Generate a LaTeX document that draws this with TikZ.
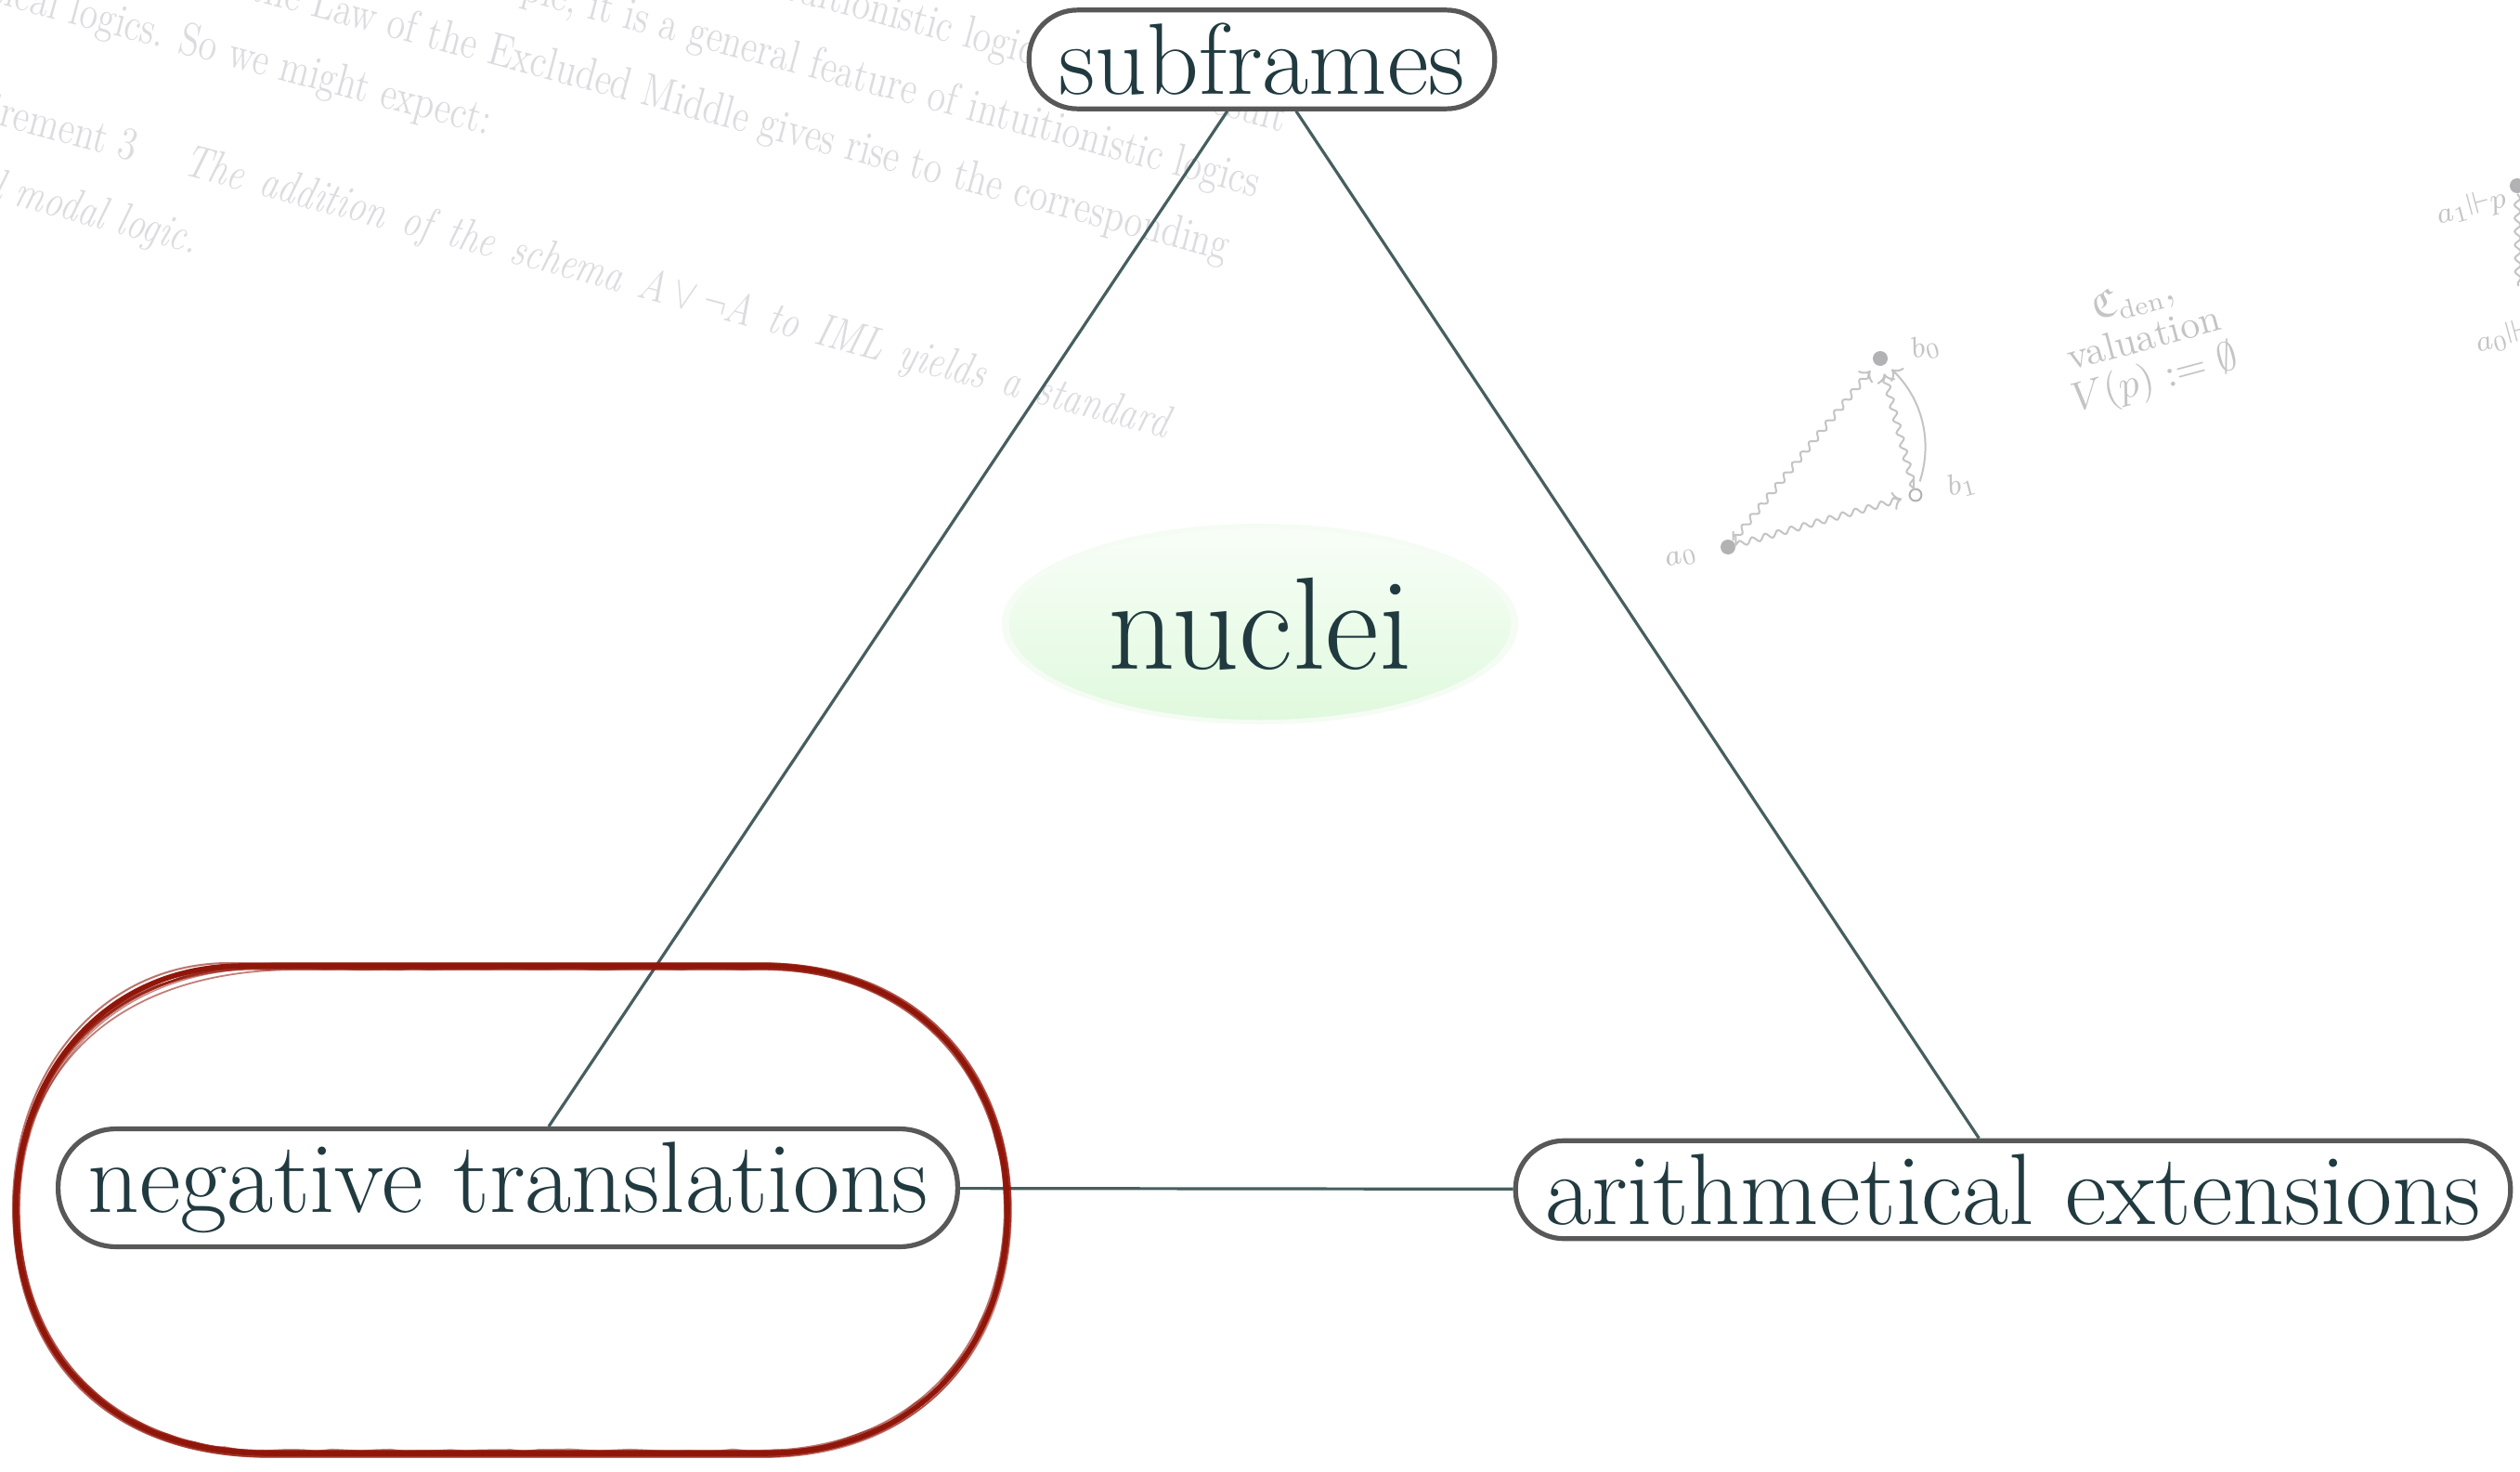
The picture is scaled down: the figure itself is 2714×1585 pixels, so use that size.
\documentclass[tikz,border=0pt]{standalone}
\usepackage{amssymb}
\usepackage{graphicx}
\usetikzlibrary{arrows.meta,decorations.pathmorphing,shapes.geometric}

\definecolor{ink}{RGB}{32,58,64}
\definecolor{rim}{RGB}{88,88,88}
\definecolor{edgeclr}{RGB}{70,94,94}
\definecolor{paper}{RGB}{220,220,224}
\definecolor{faint}{RGB}{196,196,198}
\definecolor{faintdotclr}{RGB}{178,178,180}
\definecolor{marker}{RGB}{145,22,10}
\definecolor{nucA}{RGB}{248,254,247}
\definecolor{nucB}{RGB}{224,249,222}

\tikzset{
  mainnode/.style={draw=rim, line width=1.3pt, fill=white, rounded corners=#1,
    text=ink, inner xsep=8pt, inner ysep=3.6pt,
    font=\fontsize{27.3}{32}\selectfont},
  nucleus/.style={ellipse, inner sep=0pt, minimum width=135pt, minimum height=51.5pt,
    top color=nucA, bottom color=nucB, text=ink, font=\fontsize{35.4}{42}\selectfont},
  conn/.style={draw=edgeclr, line width=0.8pt},
  pagetext/.style={text=paper, anchor=base west, inner sep=0pt, transform shape,
    font=\fontsize{12.5}{15}\selectfont},
  faintlabel/.style={text=faint, inner sep=1pt, rotate=15, font=\fontsize{8.5}{10}\selectfont},
  faintdot/.style={circle, fill=faintdotclr, inner sep=0pt, minimum size=4pt},
  opendot/.style={circle, draw=faintdotclr, fill=white, line width=0.5pt, inner sep=0pt, minimum size=3.2pt},
  wavy/.style={draw=faint, line width=0.5pt, -{To[length=2.4pt]},
    shorten <=2.5pt, shorten >=2pt,
    decorate, decoration={snake, amplitude=0.8pt, segment length=3.6pt, post length=2.5pt}},
  plainarrow/.style={draw=faint, line width=0.5pt, -{To[length=2.4pt]}, shorten <=2pt, shorten >=2pt},
  markerstroke/.style={draw=marker, line cap=round, line join=round},
}

\begin{document}
\begin{tikzpicture}[x=0.25pt, y=-0.25pt]
\useasboundingbox (0,0) rectangle (2714,1585);
\fill[white] (0,0) rectangle (2714,1585);

% faded page text behind the diagram
\begin{scope}[shift={(710,40)}, rotate=-15]
  \node[pagetext] (ln1) at (86,-75) {\scalebox{0.8}[1]{intuitionistic logic}};
  \node[pagetext] (ln1b) at (578,-75) {\scalebox{0.8}[1]{result}};
  \node[pagetext] (ln2) at (-246,0) {\scalebox{0.8}[1]{example, it is a general feature of intuitionistic logics}};
  \node[pagetext] (ln3) at (-438,75) {\scalebox{0.8}[1]{the Law of the Excluded Middle gives rise to the corresponding}};
  \node[pagetext] (ln4) at (-771,150) {\scalebox{0.8}[1]{classical logics. So we might expect:}};
  \node[pagetext, anchor=base east] (ln5a) at (-512,276) {\scalebox{0.8}[1]{Requirement 3}};
  \node[pagetext] (ln5b) at (-460,276) {\scalebox{0.8}[1]{\itshape\spaceskip=6pt The addition of the schema $A\vee\neg A$ to IML yields a standard}};
  \node[pagetext] (ln6) at (-761,355) {\scalebox{0.8}[1]{\itshape normal modal logic.}};
\end{scope}

% faded frame sketch on the right
\node[faintdot] (a0) at (1861,589) {};
\node[faintdot] (b0) at (2025,386) {};
\node[opendot] (b1) at (2063,533) {};
\node[faintlabel] (a0l) at (1811,601) {$a_0$};
\node[faintlabel] (b0l) at (2074,374) {$b_0$};
\node[faintlabel] (b1l) at (2113,522) {$b_1$};
\draw[wavy] (a0) -- (b1);
\draw[wavy] (a0) -- (b0);
\draw[wavy] (b1) -- (b0);
\draw[plainarrow] (b1) to[bend right=32] (b0);
\node[faintlabel, align=center, font=\fontsize{10.5}{11.2}\selectfont] (val) at (2310,368)
  {$\mathfrak{C}_{\mathrm{den}}$,\\valuation\\$V(p):=\emptyset$};

\node[faintdot] (c1) at (2711,200) {};
\node[faintlabel, anchor=east] (c1l) at (2703,212) {$a_1{\Vdash}p$};
\coordinate (c0top) at (2712,308);
\draw[draw=faint, line width=0.5pt, decorate, decoration={snake, amplitude=0.8pt, segment length=3.6pt}]
  (c1) -- (c0top);
\node[faintlabel, anchor=west] (c0l) at (2662,372) {$a_0{\Vdash}$};

% nuclei in the middle
\fill[nucB, opacity=0.35] (1357,672) ellipse (278 and 108);
\node[nucleus] (nuc) at (1357,672) {nuclei};

% the three corners and their connections
\node[mainnode=13pt] (sub) at (1359,64) {subframes};
\node[mainnode=15.5pt] (neg) at (547,1279) {negative translations};
\node[mainnode=13pt] (ari) at (2168,1281) {arithmetical extensions};

\draw[conn] (sub) -- (neg);
\draw[conn] (sub) -- (ari);
\draw[conn] (neg) -- (ari);

% hand-drawn loop around the lower left corner
\foreach \dx/\dy/\w/\o/\s in {0/0/1.4/1/262, 3/-2/0.7/0.75/300, -2/3/0.7/0.7/280, 1.5/4/0.45/0.55/320, -3/-3/0.5/0.6/250, 4/2/0.35/0.5/290}
  \draw[markerstroke, line width=\w pt, draw opacity=\o, shift={(\dx,\dy)}]
    (\s,1040) -- (821,1040)
    .. controls (990,1040) and (1085,1160) .. (1085,1302)
    .. controls (1085,1450) and (990,1565) .. (821,1565)
    -- (290,1565)
    .. controls (110,1565) and (17,1450) .. (17,1302)
    .. controls (17,1160) and (110,1040) .. (\s,1040);
\draw[markerstroke, line width=0.5pt, draw opacity=0.5,
      decorate, decoration={random steps, segment length=4pt, amplitude=0.35pt}]
    (270,1043) -- (821,1043)
    .. controls (988,1043) and (1082,1160) .. (1082,1302)
    .. controls (1082,1448) and (988,1562) .. (821,1562)
    -- (290,1562)
    .. controls (112,1562) and (20,1448) .. (20,1302)
    .. controls (20,1160) and (112,1043) .. (270,1043);
\end{tikzpicture}
\end{document}
